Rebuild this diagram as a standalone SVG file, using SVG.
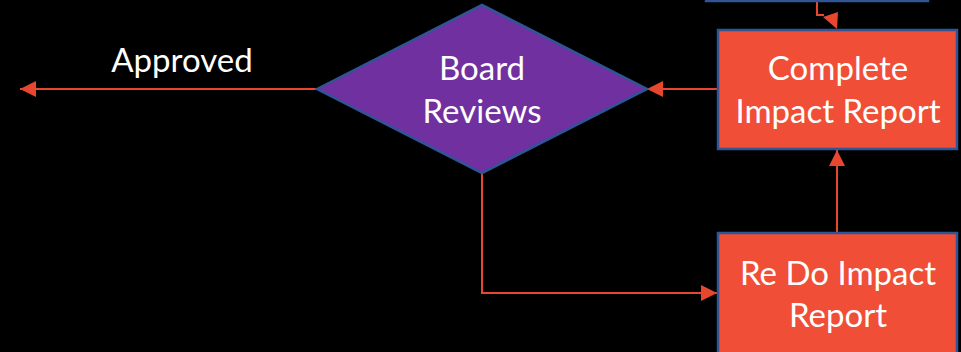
<svg xmlns="http://www.w3.org/2000/svg" width="961" height="352" viewBox="0 0 961 352">
<style>
.box{fill:#F04E37;stroke:#2F5597;stroke-width:2.5}
.dia{fill:#7030A0;stroke:#2F5597;stroke-width:2.5}
.lbl{font-family:Lato,"Open Sans",sans-serif;font-size:33px;fill:#FFFFFF;text-anchor:middle}
.con{fill:none;stroke:#E8472F;stroke-width:2}
.ah{fill:#E8472F}
</style>
<defs>
<marker id="arr" viewBox="0 0 16 16" refX="16" refY="8" markerWidth="16" markerHeight="16" markerUnits="userSpaceOnUse" orient="auto">
<path d="M0,0 L16,8 L0,16 Z" fill="#E8472F"/>
</marker>
</defs>
<rect width="961" height="352" fill="#000000"/>
<g id="connectors">
<path class="con" d="M817,0 V15 H824"/>
<polygon class="ah" points="823,17 838,12 837,29"/>
<path class="con" d="M718,89 H647" marker-end="url(#arr)"/>
<path class="con" d="M317,89 H20" marker-end="url(#arr)"/>
<path class="con" d="M482,173 V293 H717" marker-end="url(#arr)"/>
<path class="con" d="M837,233 V150" marker-end="url(#arr)"/>
</g>
<g id="top-box">
<rect class="box" x="706" y="-60" width="222" height="61"/>
</g>
<g id="approved-label">
<text class="lbl" x="182" y="72">Approved</text>
</g>
<g id="board-reviews">
<polygon class="dia" points="317,89 482,5 647,89 482,173"/>
<text class="lbl" x="482" y="80">Board</text>
<text class="lbl" x="482" y="123">Reviews</text>
</g>
<g id="complete-impact-report">
<rect class="box" x="718" y="30" width="239" height="119"/>
<text class="lbl" x="838" y="80">Complete</text>
<text class="lbl" x="838" y="123">Impact Report</text>
</g>
<g id="redo-impact-report">
<rect class="box" x="718" y="233" width="239" height="125"/>
<text class="lbl" x="838" y="285">Re Do Impact</text>
<text class="lbl" x="838" y="327">Report</text>
</g>
</svg>
